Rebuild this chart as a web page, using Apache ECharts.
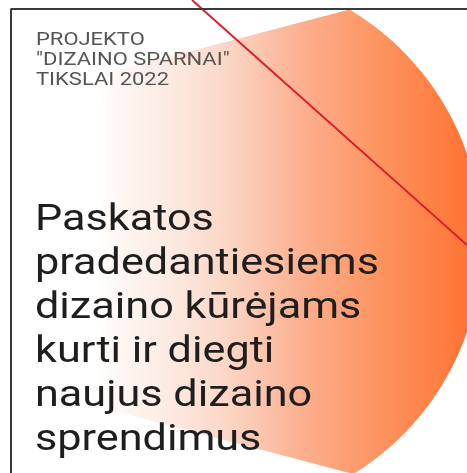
<!DOCTYPE html>
<html><head><meta charset="utf-8">
<script src="https://cdn.jsdelivr.net/npm/echarts@6/dist/echarts.min.js"></script>
<style>html,body{margin:0;padding:0;background:#fff}#c{width:467px;height:473px}</style>
</head><body><div id="c"></div>
<script>
// ---- data ----
const xRange = [0, 467];
const yRange = [0, 473];
const blobCenter = [210, 243];
const blobRadius = [272];
const blobTopEdge = [[245, 37], [348, 10]];
const blobBottomEdge = [[110, 410], [300, 460]];
const blobFadeStart = [95];
const redLineX = [192, 467];
const redLineY = [0, 245];
const frameX = [11, 11, 467];
const frameY = [473, 9, 9];
const headerLines = ['PROJEKTO', '"DIZAINO SPARNAI"', 'TIKSLAI 2022'];
const titleLines = ['Paskatos', 'pradedantiesiems', 'dizaino kūrėjams', 'kurti ir diegti', 'naujus dizaino', 'sprendimus'];

function lineY(edge, x) {
  const [a, b] = edge;
  return a[1] + (x - a[0]) * (b[1] - a[1]) / (b[0] - a[0]);
}
function clip(poly, f) {
  const out = [];
  for (let i = 0; i < poly.length; i++) {
    const p = poly[i], q = poly[(i + 1) % poly.length];
    const fp = f(p), fq = f(q);
    if (fp >= 0) out.push(p);
    if ((fp >= 0) !== (fq >= 0)) {
      const t = fp / (fp - fq);
      out.push([p[0] + t * (q[0] - p[0]), p[1] + t * (q[1] - p[1])]);
    }
  }
  return out;
}
function blobPolygon() {
  let pts = [];
  for (let i = 0; i < 360; i++) {
    const a = i * Math.PI / 180;
    pts.push([blobCenter[0] + blobRadius[0] * Math.cos(a), blobCenter[1] + blobRadius[0] * Math.sin(a)]);
  }
  pts = clip(pts, p => p[1] - lineY(blobTopEdge, p[0]));
  pts = clip(pts, p => lineY(blobBottomEdge, p[0]) - p[1]);
  pts = clip(pts, p => p[0] - blobFadeStart[0]);
  return pts;
}

const chart = echarts.init(document.getElementById('c'), null, {renderer: 'canvas'});
chart.setOption({
  backgroundColor: '#ffffff',
  animation: false,
  grid: {left: 0, right: 0, top: 0, bottom: 0},
  xAxis: {type: 'value', min: xRange[0], max: xRange[1], show: false},
  yAxis: {type: 'value', min: yRange[0], max: yRange[1], inverse: true, show: false},
  series: [
    {
      type: 'custom', z: 1, clip: false, silent: true,
      data: [[blobCenter[0], blobCenter[1]]],
      renderItem: function (params, api) {
        const pts = blobPolygon().map(p => api.coord(p));
        const x0 = api.coord([blobFadeStart[0], 0])[0];
        const x1 = api.coord([xRange[1], 0])[0];
        return {
          type: 'polygon',
          shape: {points: pts},
          style: {
            fill: new echarts.graphic.LinearGradient(x0, 0, x1, 0, [
              {offset: 0, color: 'rgba(252,228,216,0)'},
              {offset: 0.15, color: 'rgba(252,232,222,0.7)'},
              {offset: 0.39, color: '#fbd0bd'},
              {offset: 0.55, color: '#fcb090'},
              {offset: 0.77, color: '#fd935f'},
              {offset: 1, color: '#ff7434'}
            ], true)
          }
        };
      }
    },
    {
      type: 'line', z: 3, silent: true, symbol: 'none',
      data: redLineX.map((x, i) => [x, redLineY[i]]),
      lineStyle: {color: '#dc1f2e', width: 2}
    },
    {
      type: 'line', z: 4, silent: true, symbol: 'none',
      data: frameX.map((x, i) => [x, frameY[i]]),
      lineStyle: {color: '#3a3a3a', width: 2}
    }
  ],
  graphic: [
    {
      type: 'text', x: 36, y: 30, scaleX: 1.22, z: 5,
      style: {
        text: headerLines.join('\n'),
        font: '18px Roboto',
        lineHeight: 20,
        fill: '#555555',
        verticalAlign: 'top'
      }
    },
    {
      type: 'text', x: 35, y: 199, scaleX: 1.2, z: 5,
      style: {
        text: titleLines.join('\n'),
        font: '36px Roboto',
        lineHeight: 44,
        fill: '#1e1e1e',
        verticalAlign: 'top'
      }
    }
  ]
});
</script></body></html>
